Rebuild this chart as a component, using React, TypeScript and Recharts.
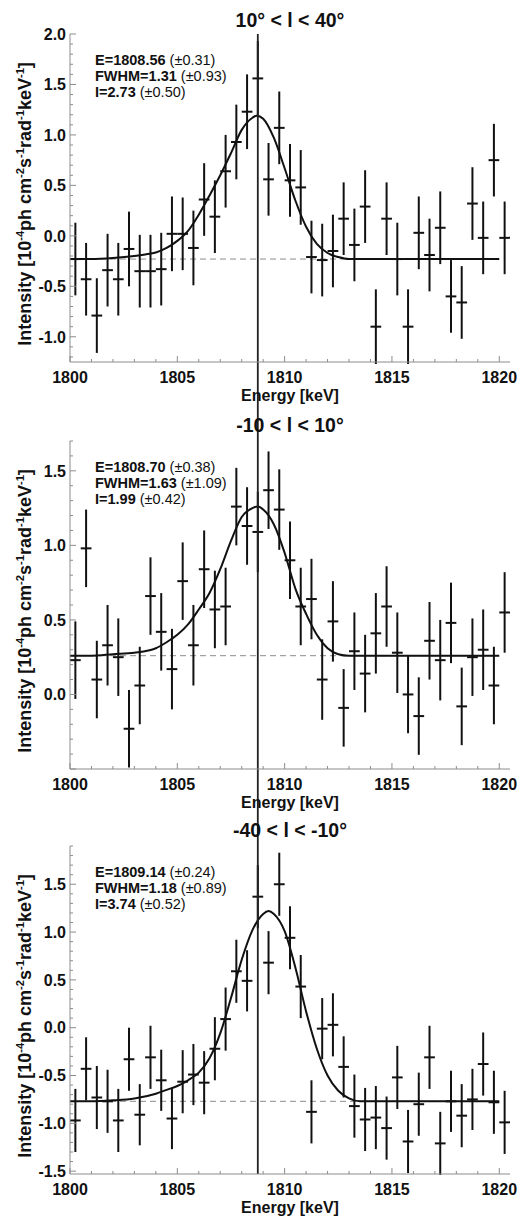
import React from 'react';
import { ComposedChart, XAxis, YAxis, Line, Scatter, ErrorBar, ReferenceLine } from 'recharts';

// ---------- data ----------
const ENERGY = [1800.25, 1800.75, 1801.25, 1801.75, 1802.25, 1802.75, 1803.25, 1803.75, 1804.25, 1804.75,
  1805.25, 1805.75, 1806.25, 1806.75, 1807.25, 1807.75, 1808.25, 1808.75, 1809.25, 1809.75,
  1810.25, 1810.75, 1811.25, 1811.75, 1812.25, 1812.75, 1813.25, 1813.75, 1814.25, 1814.75,
  1815.25, 1815.75, 1816.25, 1816.75, 1817.25, 1817.75, 1818.25, 1818.75, 1819.25, 1819.75, 1820.25];
const BIN_HALF = 0.25;

const P1_FLUX = [-0.23, -0.43, -0.79, -0.34, -0.43, -0.13, -0.35, -0.35, -0.33, 0.02,
  0.02, -0.12, 0.36, 0.19, 0.64, 0.93, 1.23, 1.56, 0.56, 1.07,
  0.55, 0.48, -0.21, -0.24, -0.15, 0.17, -0.09, 0.29, -0.9, 0.17,
  -0.23, -0.9, 0.03, -0.19, 0.08, -0.6, -0.66, 0.32, -0.02, 0.75, -0.02];
const P1_ERR = [0.36, 0.36, 0.37, 0.36, 0.36, 0.37, 0.36, 0.36, 0.36, 0.37,
  0.36, 0.37, 0.36, 0.36, 0.36, 0.37, 0.37, 0.37, 0.36, 0.36,
  0.36, 0.37, 0.36, 0.36, 0.36, 0.36, 0.36, 0.36, 0.37, 0.36,
  0.36, 0.37, 0.36, 0.36, 0.36, 0.36, 0.36, 0.36, 0.36, 0.36, 0.36];

const P2_FLUX = [0.23, 0.98, 0.1, 0.33, 0.25, -0.23, 0.06, 0.66, 0.42, 0.17,
  0.76, 0.33, 0.84, 0.57, 0.59, 1.26, 1.13, 1.09, 1.37, 1.24,
  0.9, 0.59, 0.64, 0.1, 0.49, -0.09, 0.29, 0.14, 0.41, 0.59,
  0.28, 0.0, -0.145, 0.36, 0.23, 0.48, -0.08, 0.25, 0.3, 0.06, 0.55];
const P2_ERR = [0.26, 0.26, 0.26, 0.27, 0.26, 0.26, 0.26, 0.26, 0.26, 0.27,
  0.26, 0.27, 0.26, 0.26, 0.26, 0.26, 0.26, 0.27, 0.26, 0.27,
  0.26, 0.26, 0.27, 0.27, 0.27, 0.26, 0.26, 0.26, 0.27, 0.27,
  0.27, 0.26, 0.26, 0.26, 0.27, 0.27, 0.26, 0.26, 0.27, 0.26, 0.27];

const P3_FLUX = [-0.97, -0.43, -0.73, -0.77, -0.97, -0.33, -0.91, -0.31, -0.55, -0.95,
  -0.565, -0.49, -0.575, -0.22, 0.09, 0.59, 0.49, 1.37, 0.68, 1.5,
  0.94, 0.43, -0.88, -0.01, 0.03, -0.41, -0.82, -0.96, -0.94, -1.05,
  -0.52, -1.19, -0.8, -0.31, -1.21, -0.77, -0.92, -0.75, -0.38, -0.78, -0.99];
const P3_ERR = [0.33, 0.33, 0.33, 0.33, 0.33, 0.33, 0.32, 0.33, 0.32, 0.32,
  0.33, 0.32, 0.33, 0.33, 0.33, 0.33, 0.32, 0.33, 0.33, 0.33,
  0.33, 0.33, 0.33, 0.32, 0.33, 0.32, 0.33, 0.33, 0.33, 0.33,
  0.33, 0.33, 0.33, 0.33, 0.33, 0.32, 0.33, 0.32, 0.33, 0.33, 0.33];

const C1_X = [1800, 1801, 1802, 1803, 1803.5, 1804, 1804.5, 1805, 1805.5, 1806, 1806.5, 1807, 1807.5, 1808, 1808.5, 1808.7, 1809, 1809.5, 1810, 1810.5, 1811, 1811.5, 1812, 1812.5, 1813, 1814, 1820];
const C1_Y = [-0.23, -0.23, -0.22, -0.2, -0.185, -0.165, -0.12, -0.05, 0.05, 0.21, 0.4, 0.6, 0.82, 1.05, 1.17, 1.19, 1.16, 0.97, 0.67, 0.35, 0.09, -0.08, -0.17, -0.21, -0.23, -0.23, -0.23];

const C2_X = [1800, 1801, 1802, 1803, 1804, 1804.5, 1805, 1805.5, 1806, 1806.5, 1807, 1807.5, 1808, 1808.5, 1808.75, 1809, 1809.5, 1810, 1810.5, 1811, 1811.5, 1812, 1812.5, 1813, 1814, 1820];
const C2_Y = [0.26, 0.26, 0.27, 0.28, 0.31, 0.35, 0.4, 0.47, 0.57, 0.68, 0.84, 1.03, 1.19, 1.25, 1.26, 1.24, 1.14, 0.95, 0.71, 0.54, 0.4, 0.31, 0.27, 0.26, 0.26, 0.26];

const C3_X = [1800, 1801, 1802, 1803, 1804, 1804.5, 1805, 1805.5, 1806, 1806.5, 1807, 1807.5, 1808, 1808.5, 1809, 1809.25, 1809.5, 1810, 1810.5, 1811, 1811.5, 1812, 1812.5, 1813, 1813.5, 1814, 1820];
const C3_Y = [-0.77, -0.77, -0.76, -0.74, -0.69, -0.65, -0.61, -0.55, -0.47, -0.32, -0.06, 0.31, 0.71, 1.02, 1.19, 1.22, 1.19, 1.01, 0.63, 0.17, -0.22, -0.5, -0.66, -0.74, -0.77, -0.77, -0.77];

const BASELINES = [-0.23, 0.26, -0.77];
const LINE_ENERGY = 1808.75;

const X_TICKS = [1800, 1801, 1802, 1803, 1804, 1805, 1806, 1807, 1808, 1809, 1810, 1811, 1812, 1813, 1814, 1815, 1816, 1817, 1818, 1819, 1820];
const X_LABELS = [1800, 1805, 1810, 1815, 1820];

const Y1_TICKS = [-1.2, -1.1, -1.0, -0.9, -0.8, -0.7, -0.6, -0.5, -0.4, -0.3, -0.2, -0.1, 0, 0.1, 0.2, 0.3, 0.4, 0.5, 0.6, 0.7, 0.8, 0.9, 1.0, 1.1, 1.2, 1.3, 1.4, 1.5, 1.6, 1.7, 1.8, 1.9, 2.0];
const Y1_LABELS = [-1.0, -0.5, 0, 0.5, 1.0, 1.5, 2.0];
const Y2_TICKS = [-0.5, -0.4, -0.3, -0.2, -0.1, 0, 0.1, 0.2, 0.3, 0.4, 0.5, 0.6, 0.7, 0.8, 0.9, 1.0, 1.1, 1.2, 1.3, 1.4, 1.5, 1.6, 1.7];
const Y2_LABELS = [0, 0.5, 1.0, 1.5];
const Y3_TICKS = [-1.5, -1.4, -1.3, -1.2, -1.1, -1.0, -0.9, -0.8, -0.7, -0.6, -0.5, -0.4, -0.3, -0.2, -0.1, 0, 0.1, 0.2, 0.3, 0.4, 0.5, 0.6, 0.7, 0.8, 0.9, 1.0, 1.1, 1.2, 1.3, 1.4, 1.5, 1.6, 1.7, 1.8, 1.9];
const Y3_LABELS = [-1.5, -1.0, -0.5, 0, 0.5, 1.0, 1.5];

const TITLES = ['10° < l < 40°', '-10 < l < 10°', '-40 < l < -10°'];
const FIT_E = [['E=1808.56', '(±0.31)'], ['E=1808.70', '(±0.38)'], ['E=1809.14', '(±0.24)']];
const FIT_FWHM = [['FWHM=1.31', '(±0.93)'], ['FWHM=1.63', '(±1.09)'], ['FWHM=1.18', '(±0.89)']];
const FIT_I = [['I=2.73', '(±0.50)'], ['I=1.99', '(±0.42)'], ['I=3.74', '(±0.52)']];

// ---------- styles ----------
const FONT = '"Liberation Sans", Arial, Helvetica, sans-serif';
const INK = '#111';
const FRAME = '#8c8c8c';
const X_DOMAIN: [number, number] = [1800, 1820.5];

const isMajor = (v: number, step: number) => Math.abs(v / step - Math.round(v / step)) < 1e-6;
const inList = (v: number, list: number[]) => list.some((t) => Math.abs(t - v) < 1e-6);

const BottomTick = (props: any) => {
  const { x, y, payload } = props;
  const v = payload.value;
  const major = isMajor(v, 5);
  return (
    <g>
      <line x1={x} x2={x} y1={y} y2={y - (major ? 6 : 3)} stroke={FRAME} strokeWidth={1} />
      {inList(v, X_LABELS) && (
        <text x={x} y={y + 10} dy="0.71em" textAnchor="middle" fill={INK} fontSize={16} fontWeight={700} fontFamily={FONT}>
          {v}
        </text>
      )}
    </g>
  );
};

const TopTick = (props: any) => {
  const { x, y, payload } = props;
  const major = isMajor(payload.value, 5);
  return <line x1={x} x2={x} y1={y} y2={y + (major ? 6 : 3)} stroke={FRAME} strokeWidth={1} />;
};

const makeLeftTick = (labels: number[]) => (props: any) => {
  const { x, y, payload } = props;
  const v = payload.value;
  const major = isMajor(v, 0.5);
  return (
    <g>
      <line x1={x} x2={x + (major ? 6 : 3)} y1={y} y2={y} stroke={FRAME} strokeWidth={1} />
      {inList(v, labels) && (
        <text x={x - 4} y={y} dy="0.36em" textAnchor="end" fill={INK} fontSize={16} fontWeight={700} fontFamily={FONT}>
          {v.toFixed(1)}
        </text>
      )}
    </g>
  );
};

const RightTick = (props: any) => {
  const { x, y, payload } = props;
  const major = isMajor(payload.value, 0.5);
  return <line x1={x} x2={x - (major ? 6 : 3)} y1={y} y2={y} stroke={FRAME} strokeWidth={1} />;
};

const makeVLine = (up: number, down: number) => (props: any) => {
  const { x1, x2, y1, y2 } = props;
  return (
    <line x1={x1} x2={x2} y1={Math.min(y1, y2) - up} y2={Math.max(y1, y2) + down} stroke="#222" strokeWidth={1.8} />
  );
};

type PanelCfg = {
  idx: number;
  top: number;
  height: number;
  plotTop: number;
  axisH: number;
  labelOffset: number;
  yDomain: [number, number];
  yTicks: number[];
  yLabels: number[];
  flux: number[];
  err: number[];
  cx: number[];
  cy: number[];
  up: number;
  down: number;
  titleY: number;
};

const PANELS: PanelCfg[] = [
  { idx: 0, top: 0, height: 405, plotTop: 34, axisH: 43, labelOffset: 4, yDomain: [-1.25, 2.0], yTicks: Y1_TICKS, yLabels: Y1_LABELS, flux: P1_FLUX, err: P1_ERR, cx: C1_X, cy: C1_Y, up: 0, down: 60, titleY: 19.5 },
  { idx: 1, top: 405, height: 407, plotTop: 36, axisH: 43, labelOffset: 4.5, yDomain: [-0.5, 1.7], yTicks: Y2_TICKS, yLabels: Y2_LABELS, flux: P2_FLUX, err: P2_ERR, cx: C2_X, cy: C2_Y, up: 60, down: 60, titleY: 425 },
  { idx: 2, top: 812, height: 406, plotTop: 34, axisH: 44, labelOffset: 5.5, yDomain: [-1.53, 1.9], yTicks: Y3_TICKS, yLabels: Y3_LABELS, flux: P3_FLUX, err: P3_ERR, cx: C3_X, cy: C3_Y, up: 60, down: 0, titleY: 830 },
];

function Panel({ cfg }: { cfg: PanelCfg }) {
  const points = ENERGY.map((x, i) => ({ x, y: cfg.flux[i], ey: cfg.err[i], ex: BIN_HALF }));
  const curve = cfg.cx.map((x, i) => ({ x, c: cfg.cy[i] }));
  const base = BASELINES[cfg.idx];
  const plotBottom = cfg.height - cfg.axisH;
  const plotCenter = cfg.top + (cfg.plotTop + plotBottom) / 2;
  const absPlotTop = cfg.top + cfg.plotTop;
  const annot = [FIT_E[cfg.idx], FIT_FWHM[cfg.idx], FIT_I[cfg.idx]];
  return (
    <>
      <div style={{ position: 'absolute', left: 0, top: cfg.top, width: 518, height: cfg.height }}>
        <ComposedChart width={518} height={cfg.height} margin={{ top: cfg.plotTop, right: 8, bottom: 0, left: 0 }}>
          <XAxis
            xAxisId="b"
            type="number"
            dataKey="x"
            domain={X_DOMAIN}
            allowDataOverflow
            ticks={X_TICKS}
            interval={0}
            height={cfg.axisH}
            tickSize={0}
            tickMargin={0}
            tickLine={false}
            axisLine={{ stroke: FRAME, strokeWidth: 1 }}
            tick={<BottomTick />}
            label={{ value: 'Energy [keV]', position: 'insideBottom', offset: cfg.labelOffset, fill: INK, fontSize: 16, fontWeight: 700, fontFamily: FONT }}
          />
          <XAxis
            xAxisId="t"
            orientation="top"
            type="number"
            domain={X_DOMAIN}
            allowDataOverflow
            ticks={X_TICKS}
            interval={0}
            height={0}
            tickSize={0}
            tickMargin={0}
            tickLine={false}
            axisLine={{ stroke: FRAME, strokeWidth: 1 }}
            tick={<TopTick />}
          />
          <YAxis
            yAxisId="l"
            type="number"
            dataKey="y"
            domain={cfg.yDomain}
            allowDataOverflow
            ticks={cfg.yTicks}
            interval={0}
            width={70}
            tickSize={0}
            tickMargin={0}
            tickLine={false}
            axisLine={{ stroke: FRAME, strokeWidth: 1 }}
            tick={makeLeftTick(cfg.yLabels)}
          />
          <YAxis
            yAxisId="r"
            orientation="right"
            type="number"
            domain={cfg.yDomain}
            allowDataOverflow
            ticks={cfg.yTicks}
            interval={0}
            width={0}
            tickSize={0}
            tickMargin={0}
            tickLine={false}
            axisLine={{ stroke: FRAME, strokeWidth: 1 }}
            tick={<RightTick />}
          />
          <ReferenceLine
            xAxisId="b"
            yAxisId="l"
            segment={[{ x: 1800, y: base }, { x: 1820, y: base }]}
            stroke={FRAME}
            strokeWidth={1}
            strokeDasharray="6 4"
          />
          <Line
            xAxisId="b"
            yAxisId="l"
            data={curve}
            dataKey="c"
            type="monotone"
            stroke={INK}
            strokeWidth={2}
            dot={false}
            activeDot={false}
            isAnimationActive={false}
          />
          <Scatter
            xAxisId="b"
            yAxisId="l"
            data={points}
            dataKey="y"
            shape={() => <g />}
            isAnimationActive={false}
          >
            <ErrorBar dataKey="ey" direction="y" width={0} stroke={INK} strokeWidth={2} isAnimationActive={false} />
            <ErrorBar dataKey="ex" direction="x" width={0} stroke={INK} strokeWidth={2} isAnimationActive={false} />
          </Scatter>
          <ReferenceLine
            xAxisId="b"
            yAxisId="l"
            x={LINE_ENERGY}
            stroke="#222"
            strokeWidth={1.8}
            shape={makeVLine(cfg.up, cfg.down)}
          />
        </ComposedChart>
      </div>
      <div
        style={{
          position: 'absolute', left: 70, width: 440, top: cfg.titleY - 10, height: 20, lineHeight: '20px',
          textAlign: 'center', fontSize: 19.5, fontWeight: 700, color: INK, whiteSpace: 'pre',
        }}
      >
        {TITLES[cfg.idx]}
      </div>
      {annot.map((a, i) => (
        <div
          key={i}
          style={{
            position: 'absolute', left: 95, top: absPlotTop + 26 + i * 16.2 - 8, height: 16, lineHeight: '16px',
            fontSize: 14.5, color: INK, whiteSpace: 'pre',
          }}
        >
          <span style={{ fontWeight: 700 }}>{a[0]}</span> <span style={{ fontWeight: 400 }}>{a[1]}</span>
        </div>
      ))}
      <div
        style={{
          position: 'absolute', left: 22, top: plotCenter + 6, transform: 'translate(-50%, -50%) rotate(-90deg)',
          whiteSpace: 'nowrap', fontSize: 18, fontWeight: 700, color: INK, lineHeight: '20px',
        }}
      >
        Intensity [10<sup style={{ fontSize: '0.62em' }}>-4</sup>ph cm<sup style={{ fontSize: '0.62em' }}>-2</sup>s
        <sup style={{ fontSize: '0.62em' }}>-1</sup>rad<sup style={{ fontSize: '0.62em' }}>-1</sup>keV
        <sup style={{ fontSize: '0.62em' }}>-1</sup>]
      </div>
    </>
  );
}

export default function App() {
  return (
    <div style={{ position: 'absolute', left: 0, top: 0, width: 518, height: 1218, background: '#fff', fontFamily: FONT }}>
      {PANELS.map((p) => (
        <Panel key={p.idx} cfg={p} />
      ))}
    </div>
  );
}
